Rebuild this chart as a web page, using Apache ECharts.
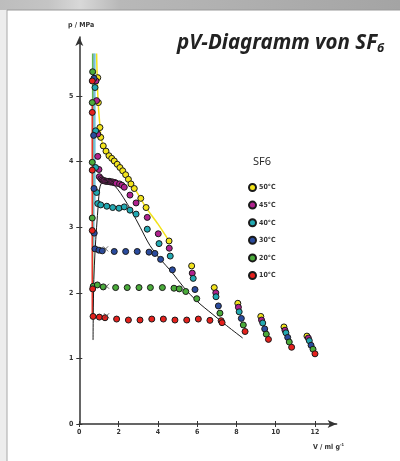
<!DOCTYPE html>
<html><head><meta charset="utf-8">
<script src="https://cdn.jsdelivr.net/npm/echarts@6/dist/echarts.min.js"></script>
<style>html,body{margin:0;padding:0;background:#fff}#c{width:400px;height:461px}</style>
</head><body><div id="c"></div>
<script>
// ---- data ----
const xTicks=[0,2,4,6,8,10,12];
const yTicks=[0,1,2,3,4,5];
const temps=['50°C','45°C','40°C','30°C','20°C','10°C'];
const colors=['#f3e41c','#b0228e','#22a9b2','#2a4b9e','#4aab3a','#e5211d'];

const t50V=[0.94,0.97,1.05,1.09,1.22,1.36,1.51,1.65,1.78,1.93,2.07,2.21,2.36,2.50,2.63,2.80,3.13,3.40,4.57,5.72,6.87,8.07,9.24,10.42,11.59];
const t50p=[5.28,4.90,4.52,4.37,4.24,4.16,4.09,4.05,4.01,3.96,3.91,3.86,3.80,3.73,3.66,3.59,3.44,3.30,2.79,2.41,2.08,1.84,1.64,1.48,1.34];

const t45V=[0.85,0.88,0.94,0.94,1.00,1.02,1.10,1.16,1.22,1.28,1.34,1.40,1.46,1.52,1.58,1.64,1.70,1.76,1.82,1.88,2.05,2.17,2.29,2.58,2.89,3.46,4.02,4.58,5.75,6.95,8.10,9.28,10.47,11.66];
const t45p=[5.23,4.93,4.42,4.08,3.88,3.77,3.74,3.72,3.71,3.71,3.70,3.70,3.70,3.70,3.69,3.69,3.69,3.68,3.68,3.67,3.66,3.64,3.61,3.49,3.37,3.15,2.90,2.68,2.30,2.00,1.78,1.585,1.43,1.31];

const t40V=[0.80,0.83,0.83,0.88,0.94,1.09,1.40,1.70,2.02,2.29,2.58,2.89,3.46,4.06,4.63,5.80,6.96,8.14,9.34,10.52,11.71];
const t40p=[5.13,4.47,3.91,3.53,3.36,3.34,3.32,3.30,3.29,3.31,3.26,3.20,2.97,2.75,2.56,2.22,1.94,1.71,1.54,1.39,1.27];

const t30V=[0.75,0.73,0.75,0.76,0.80,1.00,1.17,1.78,2.36,2.95,3.55,3.85,4.14,4.74,5.89,7.08,8.25,9.44,10.61,11.80];
const t30p=[5.27,4.40,3.59,2.91,2.67,2.65,2.64,2.63,2.63,2.63,2.62,2.60,2.51,2.35,2.05,1.80,1.61,1.45,1.32,1.20];

const t20V=[0.68,0.66,0.66,0.66,0.71,0.92,1.22,1.85,2.44,3.04,3.62,4.23,4.82,5.09,5.42,5.98,7.16,8.35,9.52,10.69,11.90];
const t20p=[5.37,4.90,3.99,3.14,2.10,2.12,2.09,2.08,2.08,2.08,2.08,2.08,2.07,2.06,2.02,1.91,1.69,1.51,1.37,1.25,1.14];

const t10V=[0.66,0.66,0.66,0.66,0.68,0.70,1.02,1.31,1.90,2.50,3.09,3.69,4.28,4.87,5.47,6.06,6.65,7.22,7.27,8.44,9.63,10.81,12.00];
const t10p=[5.23,4.75,3.87,2.95,2.06,1.64,1.63,1.62,1.60,1.585,1.585,1.60,1.60,1.585,1.585,1.60,1.58,1.575,1.545,1.41,1.29,1.17,1.07];

// coloured guide lines
const line50V=[0.88,0.92,0.97,1.05,1.12,1.25,1.45,1.75,2.10,2.50,2.90,3.40,4.00,4.57];
const line50p=[5.65,5.20,4.85,4.55,4.35,4.22,4.12,4.00,3.90,3.75,3.55,3.30,3.05,2.79];
const line40V=[0.79,0.79]; const line40p=[3.36,5.65];
const line30V=[0.74,0.74]; const line30p=[2.67,5.65];
const line20V=[0.68,0.68]; const line20p=[2.10,5.65];
const line10V=[0.66,0.66]; const line10p=[1.64,4.95];

// coexistence curve
const binV=[0.70,0.71,0.74,0.80,0.88,0.97,1.03,1.12,1.25,1.45,1.70,1.95,2.25,2.67,3.10,3.60,4.10,4.70,5.30,6.00,6.80,7.50,8.32];
const binP=[1.28,1.64,2.20,2.62,3.00,3.36,3.58,3.67,3.70,3.70,3.66,3.58,3.45,3.24,3.00,2.72,2.52,2.32,2.09,1.87,1.67,1.50,1.31];

// small crosses
const crossV=[1.39,1.39,1.34];
const crossP=[1.65,2.10,2.67];

// ---- build ----
const zip=(a,b)=>a.map((v,i)=>[v,b[i]]);
const ptsV=[t50V,t45V,t40V,t30V,t20V,t10V];
const ptsP=[t50p,t45p,t40p,t30p,t20p,t10p];
const lab="'Liberation Sans Narrow','DejaVu Sans Condensed',sans-serif";
const ch=echarts.init(document.getElementById('c'),null,{renderer:'canvas'});
const series=[];
const guide=[[line50V,line50p,'#f2e21a'],[line40V,line40p,'#5cc6d6'],[line30V,line30p,'#86b4e4'],[line20V,line20p,'#62b852'],[line10V,line10p,'#e8352a']];
guide.forEach(g=>series.push({type:'line',data:zip(g[0],g[1]),smooth:0.3,symbol:'none',silent:true,lineStyle:{color:g[2],width:1.5},z:1}));
series.push({type:'line',data:zip(binV,binP),smooth:0.35,symbol:'none',lineStyle:{color:'#1a1a1a',width:1},z:3});
temps.forEach((t,i)=>series.push({name:t,type:'scatter',data:zip(ptsV[i],ptsP[i]),symbol:'circle',symbolSize:6,
  itemStyle:{color:colors[i],borderColor:'#1a1a1a',borderWidth:1,opacity:1},z:4}));
series.push({type:'scatter',data:zip(crossV,crossP),symbol:'path://M0,0L10,10M10,0L0,10',symbolSize:5,
  itemStyle:{color:'none',borderColor:'#444',borderWidth:1},z:4});

const axisCommon={axisLine:{show:true,lineStyle:{color:'#333',width:1.5}},splitLine:{show:false}};
ch.setOption({
  animation:false,
  backgroundColor:'#fff',
  grid:{left:79.3,right:63.4,top:37,bottom:37},
  xAxis:[{type:'value',min:0,max:13.1,position:'bottom',...axisCommon,
    axisLine:{show:true,symbol:['none','arrow'],symbolSize:[6,9],lineStyle:{color:'#333',width:1.5}},
    axisTick:{show:true,customValues:xTicks,length:3,lineStyle:{color:'#333',width:1}},
    axisLabel:{customValues:xTicks,fontSize:7,color:'#333',fontWeight:'bold',fontFamily:lab,margin:5}},
    {type:'value',min:0,max:13.1,position:'bottom',axisLine:{show:false},splitLine:{show:false},
    axisTick:{show:true,inside:true,customValues:xTicks,length:3,lineStyle:{color:'#333',width:1}},axisLabel:{show:false}}],
  yAxis:[{type:'value',min:0,max:5.9,position:'left',...axisCommon,
    axisLine:{show:true,symbol:['none','arrow'],symbolSize:[6,9],lineStyle:{color:'#333',width:1.5}},
    axisTick:{show:true,customValues:yTicks,length:3,lineStyle:{color:'#333',width:1}},
    axisLabel:{customValues:yTicks,fontSize:7,color:'#333',fontWeight:'bold',fontFamily:lab,margin:6}},
    {type:'value',min:0,max:5.9,position:'left',axisLine:{show:false},splitLine:{show:false},
    axisTick:{show:true,inside:true,customValues:yTicks,length:3,lineStyle:{color:'#333',width:1}},axisLabel:{show:false}}],
  legend:{data:temps,orient:'vertical',left:243,top:178,itemWidth:7,itemHeight:7,itemGap:8.6,icon:'circle',
    textStyle:{fontSize:7,color:'#333',fontFamily:lab,fontWeight:'bold',padding:[0,0,0,-2]}},
  graphic:[
    {type:'rect',shape:{x:0,y:0,width:400,height:10},z:-1,style:{fill:new echarts.graphic.LinearGradient(0,0,1,0,[{offset:0,color:'#bdbdbd'},{offset:0.12,color:'#c4c4c4'},{offset:0.2,color:'#d8d8d8'},{offset:0.3,color:'#b8b8b8'},{offset:1,color:'#a4a4a4'}])}},
    {type:'rect',shape:{x:0,y:10,width:7,height:451},z:-1,style:{fill:'#ededed'}},
    {type:'line',shape:{x1:7,y1:10,x2:7,y2:461},style:{stroke:'#a8a8a8',lineWidth:1}},
    {type:'line',shape:{x1:7,y1:10,x2:400,y2:10},style:{stroke:'#9a9a9a',lineWidth:1}},
    {type:'text',left:177,top:33,style:{rich:{a:{fontSize:20.5,fontWeight:'bold',fontStyle:'italic',fontFamily:"'Noto Sans',sans-serif",fill:'#222'},
      s:{fontSize:13,fontWeight:'bold',fontStyle:'italic',fontFamily:"'Noto Sans',sans-serif",fill:'#222',padding:[11,0,0,0]}},text:'{a|pV-Diagramm von SF}{s|6}'}},
    {type:'text',left:68,top:22,style:{text:'p / MPa',fontSize:7,fontWeight:'bold',fontFamily:lab,fill:'#333'}},
    {type:'text',left:313,top:443,style:{rich:{a:{fontSize:7,fontWeight:'bold',fontFamily:lab,fill:'#333'},s:{fontSize:4,fontWeight:'bold',fontFamily:lab,fill:'#333',padding:[0,0,5,0]}},text:'{a|V / ml g}{s|-1}'}},
    {type:'text',left:253,top:156,style:{text:'SF6',fontSize:11,fontFamily:"'Open Sans',sans-serif",fill:'#222'}}
  ],
  series
});
</script></body></html>
